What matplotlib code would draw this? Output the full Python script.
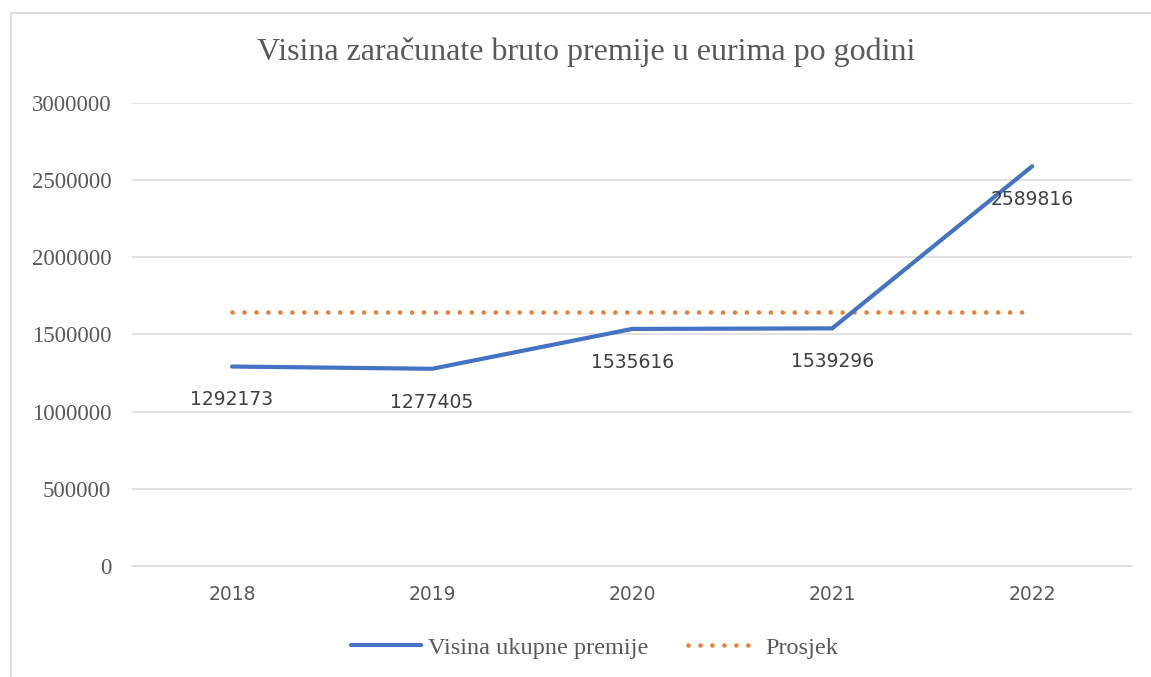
import matplotlib.pyplot as plt
from matplotlib.patches import Rectangle

years = ["2018", "2019", "2020", "2021", "2022"]
premije = [1292173, 1277405, 1535616, 1539296, 2589816]
prosjek = [sum(premije) / len(premije)] * len(premije)

BLUE = "#4472C4"
ORANGE = "#ED7D31"
TEXT = "#595959"
GRID = "#D9D9D9"
SERIF = "Liberation Serif"
SANS = "DejaVu Sans"


def main():
    fig = plt.figure(figsize=(11.51, 6.77), dpi=100)
    ax = fig.add_axes([0.1147, 0.164, 0.869, 0.684])

    x = list(range(len(years)))
    ax.plot(x, premije, color=BLUE, lw=3.0, solid_capstyle="round",
            label="Visina ukupne premije", zorder=3)
    ax.plot(x, prosjek, color=ORANGE, lw=3.3, dashes=(0.01, 2.6),
            dash_capstyle="round", label="Prosjek", zorder=2)

    # data labels below points
    for xi, v in zip(x, premije):
        ax.annotate(str(v), (xi, v), xytext=(0, -24), textcoords="offset points",
                    ha="center", va="center", fontsize=13.5, family=SANS, color="#404040")

    ax.set_xlim(-0.5, 4.5)
    ax.set_ylim(0, 3000000)
    ax.set_yticks(range(0, 3000001, 500000))
    ax.set_yticklabels([str(v) for v in range(0, 3000001, 500000)],
                       family=SERIF, fontsize=16.5, color=TEXT)
    ax.set_xticks(x)
    ax.set_xticklabels(years, family=SANS, fontsize=13.5, color=TEXT)
    ax.tick_params(length=0)
    ax.tick_params(axis="y", pad=15)
    ax.tick_params(axis="x", pad=14)
    ax.grid(axis="y", color=GRID, lw=1.1)
    ax.set_axisbelow(True)
    for s in ["top", "right", "left"]:
        ax.spines[s].set_visible(False)
    ax.spines["bottom"].set_color(GRID)
    ax.spines["bottom"].set_linewidth(1.1)

    fig.text(0.5096, 0.923, "Visina zaračunate bruto premije u eurima po godini",
             ha="center", va="center", family=SERIF, fontsize=23, color=TEXT)

    leg = fig.legend(loc="center", bbox_to_anchor=(0.5165, 0.043), ncol=2, frameon=False,
                     prop={"family": SERIF, "size": 17.5}, handlelength=2.9,
                     columnspacing=1.6, handletextpad=0.3)
    for t in leg.get_texts():
        t.set_color(TEXT)

    # chart border
    fig.patches.append(Rectangle((0.0092, -0.1), 1.2, 1.0808, transform=fig.transFigure,
                                 fill=False, edgecolor=GRID, lw=1.2))

    plt.savefig("out.png", dpi=100)


if __name__ == "__main__":
    main()
